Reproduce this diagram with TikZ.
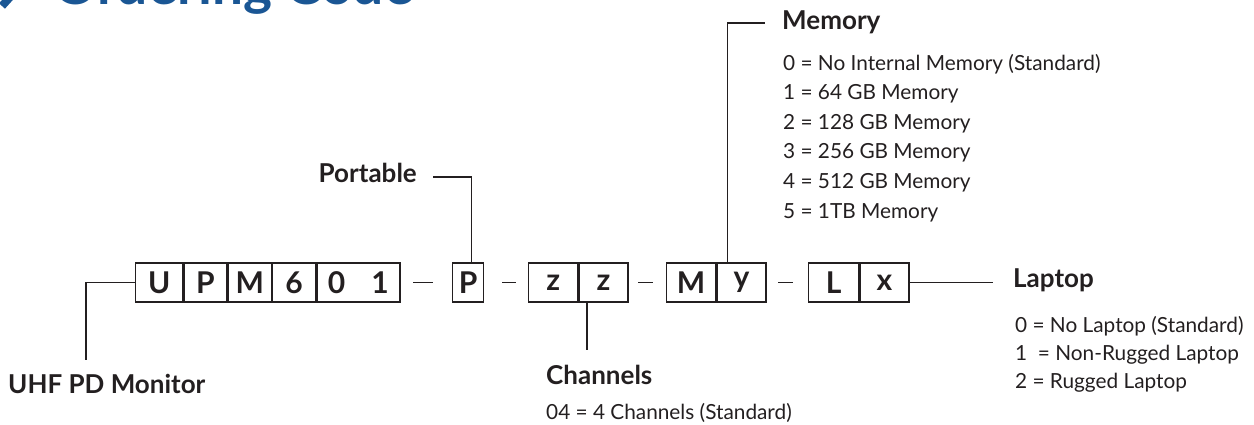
\documentclass[tikz,border=0pt]{standalone}
\usepackage{fontspec}
\setmainfont{Lato}
\definecolor{codeblue}{RGB}{26,86,148}
\definecolor{ink}{RGB}{35,31,32}
\newcommand{\cellfont}{\fontsize{30}{32}\selectfont\bfseries}
\newcommand{\headfont}{\fontsize{26}{30}\selectfont\bfseries}
\newcommand{\itemfont}{\fontsize{20.8}{24}\selectfont}

\begin{document}
\begin{tikzpicture}[x=1pt,y=-1pt,
      every node/.style={text=ink},
      cell/.style={draw=ink,line width=1.3pt,minimum height=39pt,inner sep=0pt,anchor=west,font=\cellfont},
      head/.style={anchor=base west,inner sep=0pt,font=\headfont},
      item/.style={anchor=base west,inner sep=0pt,font=\itemfont},
      wire/.style={draw=ink,line width=1.3pt}]
      \useasboundingbox (0,0) rectangle (1254,424);
      % title, cut off at the top
      \draw[codeblue,line width=8pt] (2,-34) -- (20,-14) -- (2,6);
      \node[anchor=base west,inner sep=0pt,text=codeblue,font=\fontsize{55}{60}\selectfont\bfseries] (title) at (53,4) {Ordering Code};
      % the code boxes
      \node[cell,minimum width=47pt] (u) at (135,282.5) {U};
      \node[cell,minimum width=43pt] (p) at (u.east) {P};
      \node[cell,minimum width=43pt] (m) at (p.east) {M};
      \node[cell,minimum width=43pt] (six) at (m.east) {6};
      \node[cell,minimum width=83pt] (zeroone) at (six.east) {0\hspace{26pt}1};
      \node[cell,minimum width=31pt] (port) at (452,282.5) {P};
      \node[cell,minimum width=49pt] (za) at (528,282.5) {z};
      \node[cell,minimum width=49pt] (zb) at (za.east) {z};
      \node[cell,minimum width=49pt] (mem) at (666,282.5) {M};
      \node[cell,minimum width=49pt] (memy) at (mem.east) {y};
      \node[cell,minimum width=50pt] (lap) at (808,282.5) {L};
      \node[cell,minimum width=49pt] (lapx) at (lap.east) {x};
      % dashes
      \draw[wire] (413,282.5) -- (433,282.5);
      \draw[wire] (502,282.5) -- (516,282.5);
      \draw[wire] (638,282.5) -- (653,282.5);
      \draw[wire] (778,282.5) -- (793,282.5);
      % labels
      \node[head] (uhf) at (8,393) {UHF PD Monitor};
      \node[head,anchor=base east] (portable) at (417,182) {Portable};
      \node[head] (channels) at (546,384) {Channels};
      \node[item] (chan0) at (546,419) {04 = 4 Channels (Standard)};
      \node[head] (memory) at (782,29) {Memory};
      \foreach \t [count=\i from 0] in {No Internal Memory (Standard),64 GB Memory,128 GB Memory,256 GB Memory,512 GB Memory,1TB Memory}
        \node[item] (mem\i) at (783,70+29.6*\i) {\i\ = \t};
      \node[head] (laptop) at (1013,287) {Laptop};
      \node[item] (lap0) at (1015,332) {0 = No Laptop (Standard)};
      \node[item] (lap1) at (1015,360) {1 \ = Non-Rugged Laptop};
      \node[item] (lap2) at (1015,388) {2 = Rugged Laptop};
      % connectors
      \coordinate (uhfend) at (86,360);
      \coordinate (portend) at (433,177);
      \coordinate (chanend) at (587,350);
      \coordinate (memend) at (765,23);
      \coordinate (lapend) at (993,282.5);
      \draw[wire] (u.west) -| (uhfend);
      \draw[wire] ([xshift=3pt]port.north) |- (portend);
      \draw[wire] (chanend |- zb.south) -- (chanend);
      \draw[wire] ([xshift=11pt]memy.north west) |- (memend);
      \draw[wire] (lapx.east) -- (lapend);
\end{tikzpicture}
\end{document}
